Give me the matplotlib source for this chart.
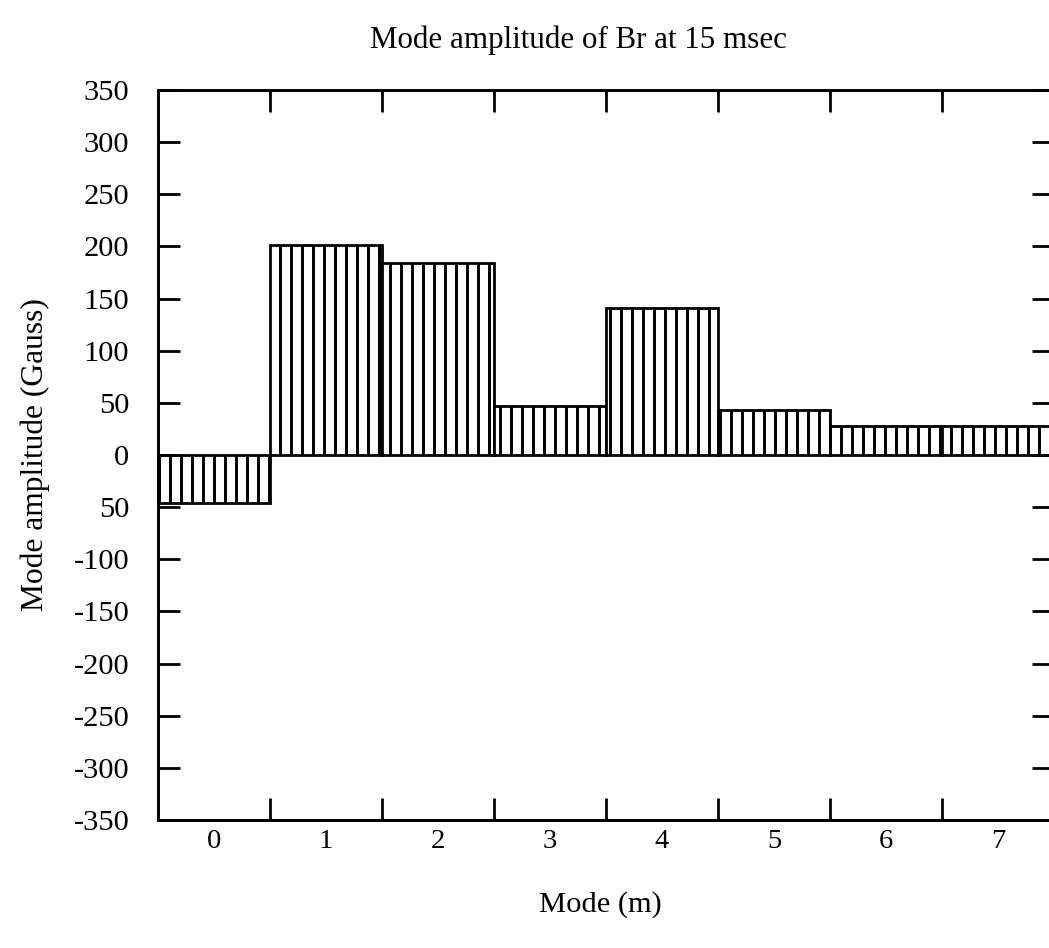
import matplotlib
matplotlib.use("Agg")
import matplotlib.pyplot as plt
from matplotlib.ticker import FixedLocator

# Mode numbers and their amplitudes (Gauss)
modes = [0, 1, 2, 3, 4, 5, 6, 7]
amplitudes = [-46, 201, 184, 47, 141, 43, 28, 28]

y_ticks = [350, 300, 250, 200, 150, 100, 50, 0, -50, -100, -150, -200, -250, -300, -350]
y_tick_labels = ["350", "300", "250", "200", "150", "100", "50", "0", "50",
                 "-100", "-150", "-200", "-250", "-300", "-350"]
x_tick_labels = [str(m) for m in modes]

DPI = 200 / 3
W, H = 1049, 948

plt.rcParams["hatch.linewidth"] = 3.2
plt.rcParams["font.family"] = ["Liberation Serif", "DejaVu Serif"]

fig = plt.figure(figsize=(W / DPI, H / DPI), dpi=DPI)
ax = fig.add_axes([158 / W, 1 - 820 / H, (1054 - 158) / W, (820 - 90) / H])

ax.bar(modes, amplitudes, width=1.0, color="white", edgecolor="black",
       linewidth=3.0, hatch="|")

ax.set_xlim(-0.5, 7.5)
ax.set_ylim(-350, 350)

# x: labels under each mode, tick marks on the bin boundaries
ax.set_xticks(modes)
ax.set_xticklabels(x_tick_labels, fontsize=31)
ax.xaxis.set_minor_locator(FixedLocator([m + 0.5 for m in modes[:-1]]))
ax.tick_params(axis="x", which="major", length=0, pad=10)
ax.tick_params(axis="x", which="minor", direction="in", length=24, width=3.0,
               top=True, bottom=True)

ax.set_yticks(y_ticks)
ax.set_yticklabels(y_tick_labels, fontsize=33)
ax.tick_params(axis="y", which="major", direction="in", length=24, width=3.0,
               left=True, right=True, pad=31)

for s in ax.spines.values():
    s.set_linewidth(3.2)

fig.text(578 / W, 1 - 40 / H, "Mode amplitude of Br at 15 msec",
         ha="center", va="center", fontsize=33.5)
fig.text(600 / W, 1 - 905 / H, "Mode (m)", ha="center", va="center", fontsize=33)
fig.text(35 / W, 1 - 455 / H, "Mode amplitude (Gauss)", ha="center", va="center",
         rotation=90, fontsize=34)

fig.savefig("out.png", dpi=DPI)
